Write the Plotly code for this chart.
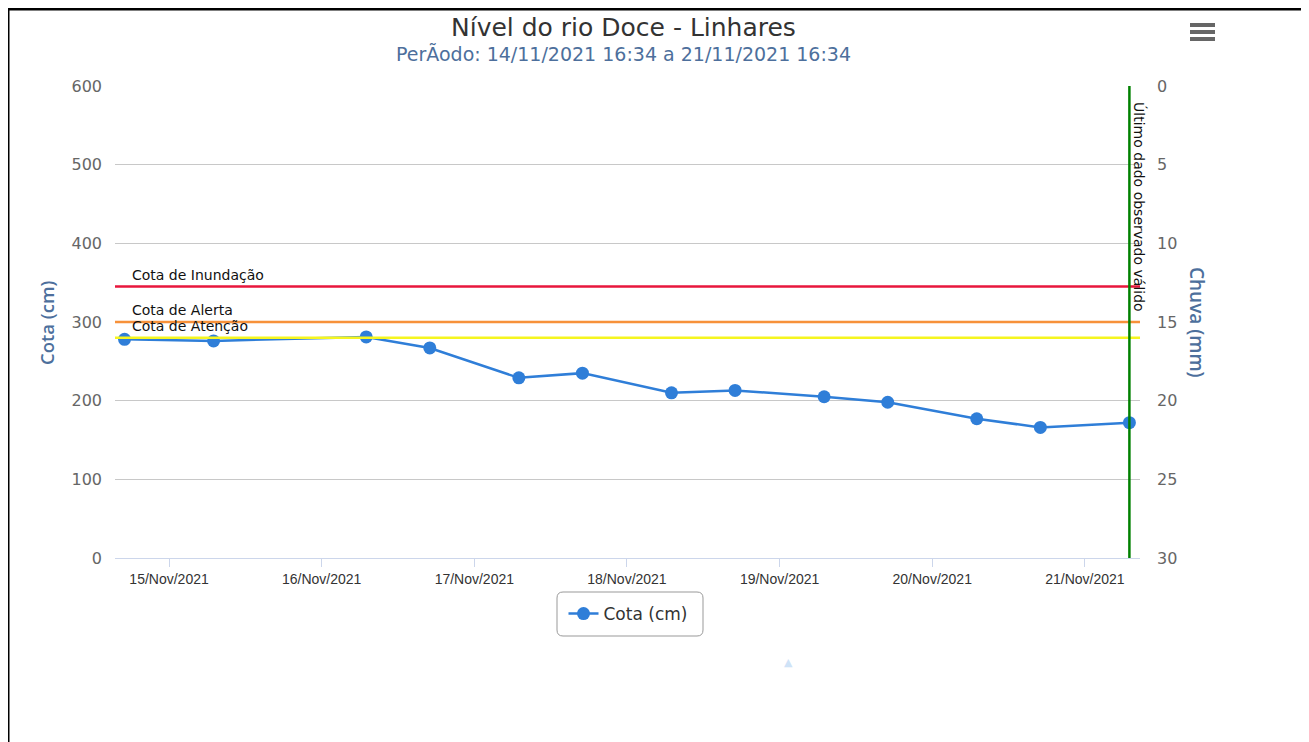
import plotly.graph_objects as go

# ---- data ----
times = [
    "2021-11-14 17:00", "2021-11-15 07:00", "2021-11-16 07:00", "2021-11-16 17:00",
    "2021-11-17 07:00", "2021-11-17 17:00", "2021-11-18 07:00", "2021-11-18 17:00",
    "2021-11-19 07:00", "2021-11-19 17:00", "2021-11-20 07:00", "2021-11-20 17:00",
    "2021-11-21 07:00",
]
cota_cm = [278, 276, 281, 267, 229, 235, 210, 213, 205, 198, 177, 166, 172]

threshold_names = ["Cota de Inundação", "Cota de Alerta", "Cota de Atenção"]
threshold_values = [345, 300, 280]
threshold_colors = ["#e8163c", "#f7913a", "#f5f520"]

last_valid_time = "2021-11-21 07:00"
last_valid_label = "Último dado observado válido"

left_ticks = [0, 100, 200, 300, 400, 500, 600]
right_ticks = [0, 5, 10, 15, 20, 25, 30]
x_range = ["2021-11-14 15:30", "2021-11-21 08:40"]

title = "Nível do rio Doce - Linhares"
subtitle = "PerÃodo: 14/11/2021 16:34 a 21/11/2021 16:34"

# ---- layout geometry (screen pixels; page body has an 8px offset) ----
SW, SH = 1309, 742
OFF = 8
FW, FH = SW - OFF, SH - OFF
L, R, T, B = 115, 1140, 86, 558
PW, PH = R - L, B - T


def px(xs):
    return (xs - L) / PW


def py(ys):
    return (B - ys) / PH


FONT = "DejaVu Sans, Verdana, sans-serif"
OPEN = "Open Sans, Segoe UI, sans-serif"
AXIS_TITLE_COLOR = "#4d6f9c"

fig = go.Figure()

fig.add_trace(go.Scatter(
    x=times, y=cota_cm, mode="lines+markers", name="Cota (cm)",
    line=dict(color="#2f7ed8", width=2.5),
    marker=dict(color="#2f7ed8", size=13),
    yaxis="y",
))
# invisible trace to activate right axis
fig.add_trace(go.Scatter(
    x=[times[0]], y=[None], yaxis="y2", showlegend=False, hoverinfo="skip",
    mode="markers", marker=dict(opacity=0),
))

shapes = []
annotations = []

for name, val, col in zip(threshold_names, threshold_values, threshold_colors):
    shapes.append(dict(type="line", xref="paper", yref="y", x0=0, x1=1, y0=val, y1=val,
                       line=dict(color=col, width=2.5), layer="above"))
    annotations.append(dict(text=name, xref="paper", yref="y", x=px(130), y=val,
                            xanchor="left", yanchor="bottom", yshift=2, showarrow=False,
                            font=dict(family=FONT, size=14, color="#111")))

# last valid data vertical line
shapes.append(dict(type="line", xref="x", yref="paper", x0=last_valid_time, x1=last_valid_time,
                   y0=0, y1=1, line=dict(color="#008000", width=2.5), layer="above"))
annotations.append(dict(text=last_valid_label, xref="x", yref="paper", x=last_valid_time,
                        y=py(100), xanchor="left", yanchor="top", textangle=90, xshift=0,
                        showarrow=False, font=dict(family=FONT, size=14, color="#111")))

# titles
annotations.append(dict(text=title, xref="paper", yref="paper", x=px(623), y=py(27),
                        xanchor="center", yanchor="middle", showarrow=False,
                        font=dict(family=FONT, size=25, color="#333")))
annotations.append(dict(text=subtitle, xref="paper", yref="paper", x=px(623), y=py(54),
                        xanchor="center", yanchor="middle", showarrow=False,
                        font=dict(family=FONT, size=19, color="#4d6f9c")))
# axis titles
annotations.append(dict(text="Cota (cm)", xref="paper", yref="paper", x=px(46), y=py(323),
                        xanchor="center", yanchor="middle", textangle=-90, showarrow=False,
                        font=dict(family=OPEN, size=18.5, weight=600, color=AXIS_TITLE_COLOR)))
annotations.append(dict(text="Chuva (mm)", xref="paper", yref="paper", x=px(1197), y=py(322),
                        xanchor="center", yanchor="middle", textangle=90, showarrow=False,
                        font=dict(family=OPEN, size=19, weight=600, color=AXIS_TITLE_COLOR)))
# small navigator triangle
annotations.append(dict(text="▲", xref="paper", yref="paper", x=px(788), y=py(662),
                        xanchor="center", yanchor="middle", showarrow=False,
                        font=dict(size=11, color="#cfe3f7")))

# hamburger menu
for yy in (25, 32, 39):
    shapes.append(dict(type="line", xref="paper", yref="paper", x0=px(1190), x1=px(1215),
                       y0=py(yy), y1=py(yy), line=dict(color="#666", width=4)))

# legend rounded box
bx0, bx1, by0, by1, rr = 557, 703, 592, 636, 6
path = (
    f"M {px(bx0 + rr)},{py(by0)} L {px(bx1 - rr)},{py(by0)} "
    f"Q {px(bx1)},{py(by0)} {px(bx1)},{py(by0 + rr)} "
    f"L {px(bx1)},{py(by1 - rr)} Q {px(bx1)},{py(by1)} {px(bx1 - rr)},{py(by1)} "
    f"L {px(bx0 + rr)},{py(by1)} Q {px(bx0)},{py(by1)} {px(bx0)},{py(by1 - rr)} "
    f"L {px(bx0)},{py(by0 + rr)} Q {px(bx0)},{py(by0)} {px(bx0 + rr)},{py(by0)} Z"
)
shapes.append(dict(type="path", xref="paper", yref="paper", path=path,
                   line=dict(color="#999", width=1)))

# page frame (top and left black border)
shapes.append(dict(type="line", xref="paper", yref="paper", x0=px(0), x1=px(SW),
                   y0=py(9), y1=py(9), line=dict(color="black", width=3)))
shapes.append(dict(type="line", xref="paper", yref="paper", x0=px(8), x1=px(8),
                   y0=py(9), y1=py(SH + 10), line=dict(color="black", width=3)))

fig.update_layout(
    width=FW, height=FH,
    margin=dict(l=L - OFF, r=FW - (R - OFF), t=T - OFF, b=FH - (B - OFF), autoexpand=False),
    paper_bgcolor="white", plot_bgcolor="white",
    font=dict(family=FONT),
    showlegend=True,
    legend=dict(orientation="h", x=px(628), y=py(614), xanchor="center", yanchor="middle",
                borderwidth=0, bgcolor="rgba(0,0,0,0)",
                font=dict(family=FONT, size=17, color="#333"),
                itemwidth=30),
    xaxis=dict(
        type="date", range=x_range, tickformat="%d/%b/%Y", dtick=86400000,
        tick0="2021-11-15", showgrid=False, zeroline=False,
        showline=True, linecolor="#ccd6eb", linewidth=1,
        ticks="outside", tickcolor="#ccd6eb", ticklen=8, tickwidth=1,
        tickfont=dict(family="Liberation Sans, Arial, sans-serif", size=14, color="#333"),
    ),
    yaxis=dict(
        range=[0, 600], tickvals=left_ticks, showgrid=True, gridcolor="#c8c8c8", gridwidth=1,
        zeroline=False, showline=False, ticks="",
        tickfont=dict(family=FONT, size=16, color="#666"), ticklabelstandoff=12,
    ),
    yaxis2=dict(
        overlaying="y", side="right", range=[30, 0], tickvals=right_ticks, showgrid=False,
        zeroline=False, showline=False, ticks="",
        tickfont=dict(family=FONT, size=16, color="#666"), ticklabelstandoff=16,
    ),
    shapes=shapes,
    annotations=annotations,
)

fig.write_html("out.html")
